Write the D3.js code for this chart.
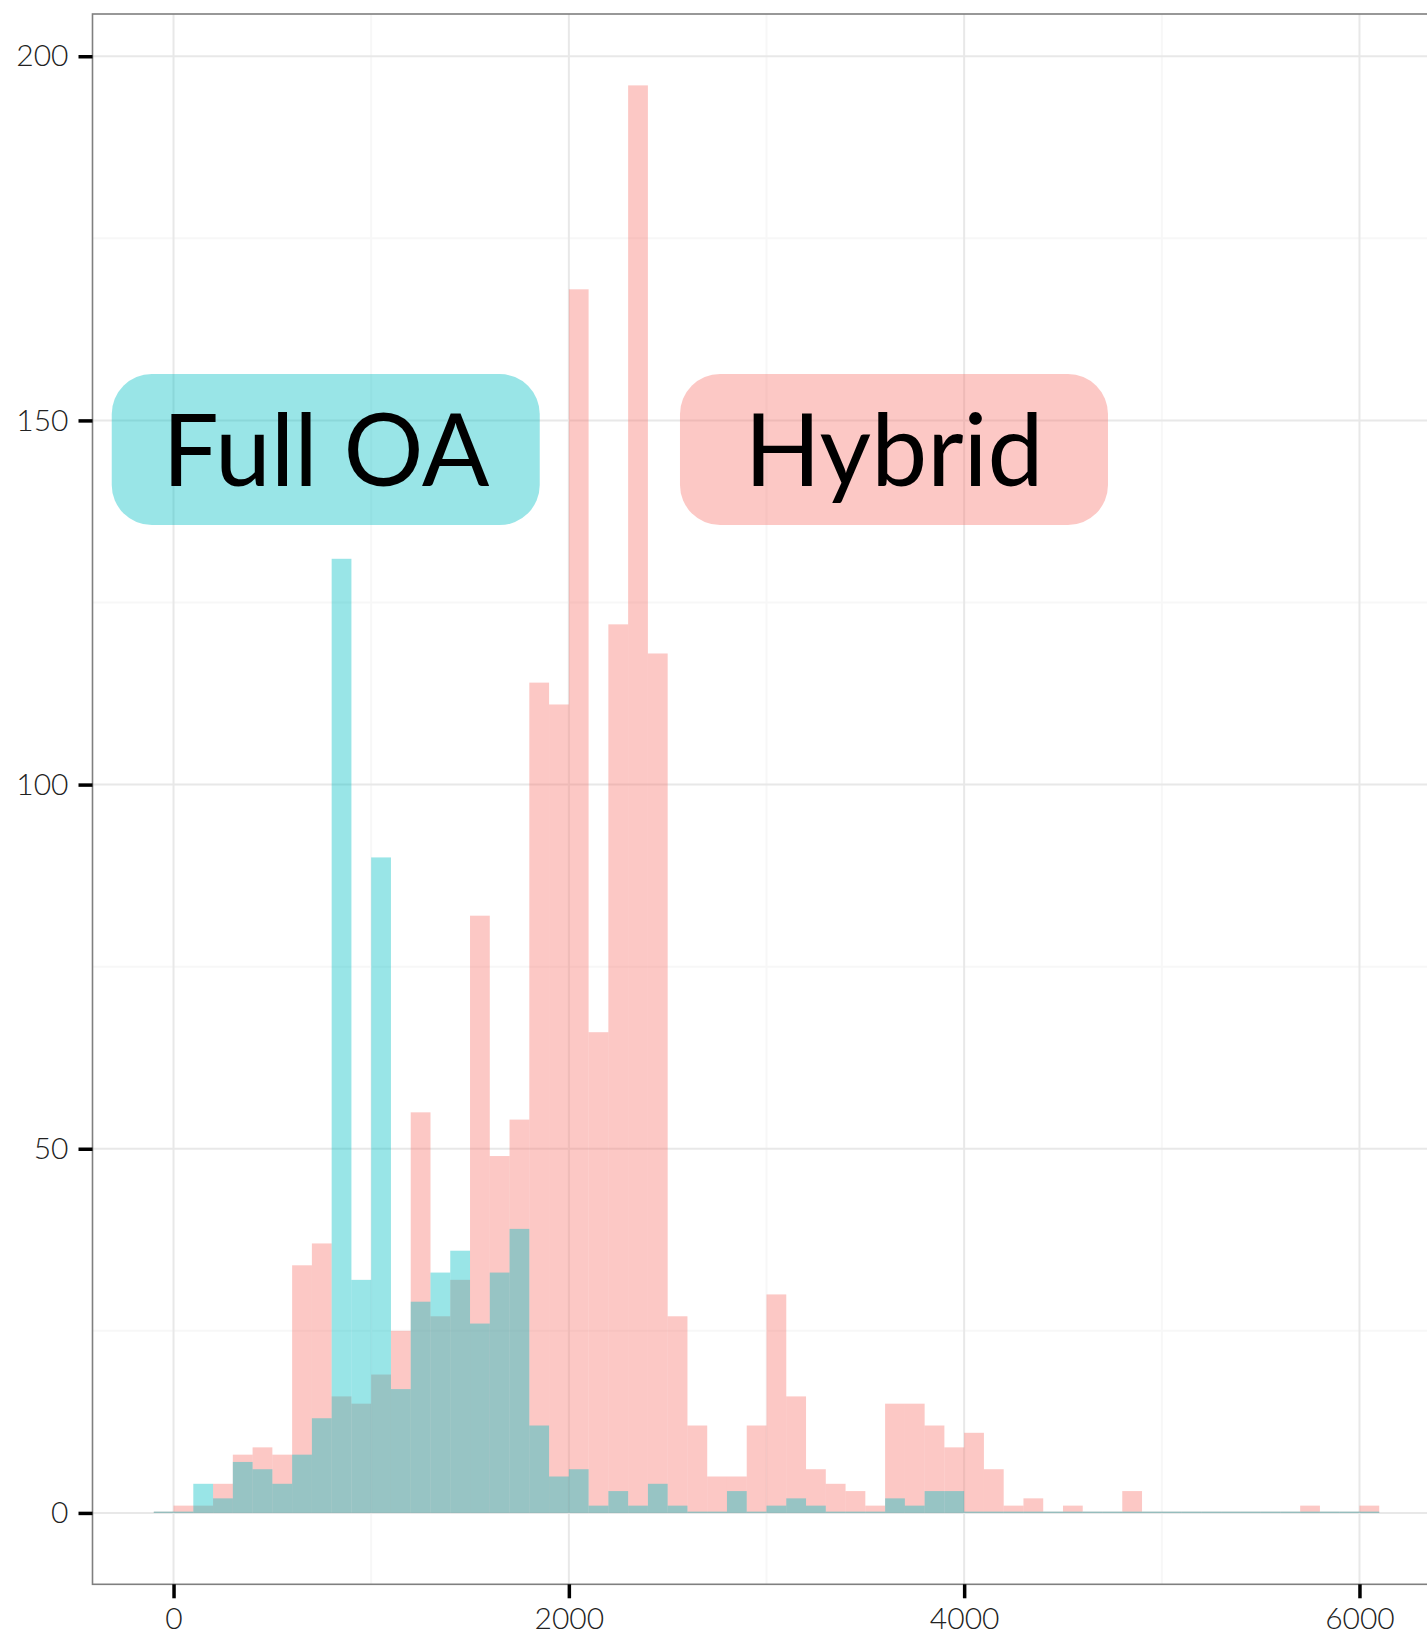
<!DOCTYPE html>
<html>
<head>
<meta charset="utf-8">
<script src="https://cdn.jsdelivr.net/npm/d3@7"></script>
<style>
  html, body { margin: 0; padding: 0; background: #fff; overflow: hidden; }
  svg { display: block; }
</style>
</head>
<body>
<script>
// histogram, binwidth 100, first bin starts at -100
const binStart = -100;
const binWidth = 100;

const hybrid = [0,
  1, 1, 4, 8, 9, 8, 34, 37, 16, 15,
  19, 25, 55, 27, 32, 82, 49, 54, 114, 111,
  168, 66, 122, 196, 118, 27, 12, 5, 5, 12,
  30, 16, 6, 4, 3, 1, 15, 15, 12, 9,
  11, 6, 1, 2, 0, 1, 0, 0, 3, 0,
  0, 0, 0, 0, 0, 0, 0, 1, 0, 0, 1];

const fullOA = [0,
  0, 4, 2, 7, 6, 4, 8, 13, 131, 32,
  90, 17, 29, 33, 36, 26, 33, 39, 12, 5,
  6, 1, 3, 1, 4, 1, 0, 0, 3, 0,
  1, 2, 1, 0, 0, 0, 2, 1, 3, 3,
  0, 0, 0, 0, 0, 0, 0, 0, 0, 0,
  0, 0, 0, 0, 0, 0, 0, 0, 0, 0, 0];

const xTicks = [0, 2000, 4000, 6000];
const xMinor = [1000, 3000, 5000];
const yTicks = [0, 50, 100, 150, 200];
const yMinor = [25, 75, 125, 175];

const labels = [
  { text: "Full OA", x: 770, y: 146, color: "#00BFC4" },
  { text: "Hybrid", x: 3645, y: 146, color: "#F8766D" }
];

const width = 1427, height = 1636;
const svg = d3.select('body').append('svg')
    .attr('width', width)
    .attr('height', height);

// panel runs past the right edge, like the cropped original
const x = d3.scaleLinear().domain([-410, 6410]).range([92.5, 1440.5]);
const y = d3.scaleLinear().domain([-9.8, 205.8]).range([1584.3, 14]);

const panel = { left: x.range()[0], right: x.range()[1], top: y.range()[1], bottom: y.range()[0] };

// grid
const grid = svg.append('g');
grid.selectAll('.xminor').data(xMinor).enter().append('line')
    .attr('x1', d => x(d)).attr('x2', d => x(d))
    .attr('y1', panel.top).attr('y2', panel.bottom)
    .attr('stroke', '#F7F7F7').attr('stroke-width', 2);
grid.selectAll('.yminor').data(yMinor).enter().append('line')
    .attr('y1', d => y(d)).attr('y2', d => y(d))
    .attr('x1', panel.left).attr('x2', panel.right)
    .attr('stroke', '#F7F7F7').attr('stroke-width', 2);
grid.selectAll('.xmajor').data(xTicks).enter().append('line')
    .attr('x1', d => x(d)).attr('x2', d => x(d))
    .attr('y1', panel.top).attr('y2', panel.bottom)
    .attr('stroke', '#E8E8E8').attr('stroke-width', 2);
grid.selectAll('.ymajor').data(yTicks).enter().append('line')
    .attr('y1', d => y(d)).attr('y2', d => y(d))
    .attr('x1', panel.left).attr('x2', panel.right)
    .attr('stroke', '#E8E8E8').attr('stroke-width', 2);

// bars: hybrid first, full OA drawn over it
const drawBars = (values, color) => {
    svg.append('g').selectAll('rect')
        .data(values)
        .enter().append('rect')
        .attr('x', (d, i) => x(binStart + i * binWidth))
        .attr('width', (d, i) => x(binStart + (i + 1) * binWidth) - x(binStart + i * binWidth))
        .attr('y', d => Math.min(y(d), y(0) - 1.3))
        .attr('height', d => Math.max(y(0) - y(d), 1.3))
        .attr('fill', color)
        .attr('fill-opacity', 0.4);
};
drawBars(hybrid, '#F8766D');
drawBars(fullOA, '#00BFC4');

// annotation labels
const lab = svg.append('g').selectAll('g')
    .data(labels)
    .enter().append('g')
    .attr('transform', d => `translate(${x(d.x)},${y(d.y)})`);
lab.append('rect')
    .attr('x', -214).attr('y', -75.5)
    .attr('width', 428).attr('height', 151)
    .attr('rx', 40).attr('ry', 40)
    .attr('fill', d => d.color)
    .attr('fill-opacity', 0.4);
lab.append('text')
    .attr('y', 36)
    .attr('text-anchor', 'middle')
    .style('font-family', 'Lato, "Open Sans", sans-serif')
    .style('font-size', '100px')
    .style('fill', '#000')
    .text(d => d.text);

// panel border
svg.append('rect')
    .attr('x', panel.left).attr('y', panel.top)
    .attr('width', panel.right - panel.left)
    .attr('height', panel.bottom - panel.top)
    .attr('fill', 'none')
    .attr('stroke', '#7F7F7F')
    .attr('stroke-width', 1.6);

// axes
const yAxis = svg.append('g')
    .attr('transform', `translate(${panel.left},0)`)
    .call(d3.axisLeft(y).tickValues(yTicks).tickSize(14).tickPadding(10));
const xAxis = svg.append('g')
    .attr('transform', `translate(0,${panel.bottom})`)
    .call(d3.axisBottom(x).tickValues(xTicks).tickSize(14).tickPadding(9).tickFormat(d3.format('d')));

[yAxis, xAxis].forEach(a => {
    a.select('.domain').remove();
    a.selectAll('.tick line').attr('stroke', '#000').attr('stroke-width', 3.5);
    a.selectAll('.tick text')
        .style('font-family', 'Lato, "Open Sans", sans-serif')
        .style('font-weight', 300)
        .style('font-size', '30px')
        .style('fill', '#222');
});
</script>
</body>
</html>
